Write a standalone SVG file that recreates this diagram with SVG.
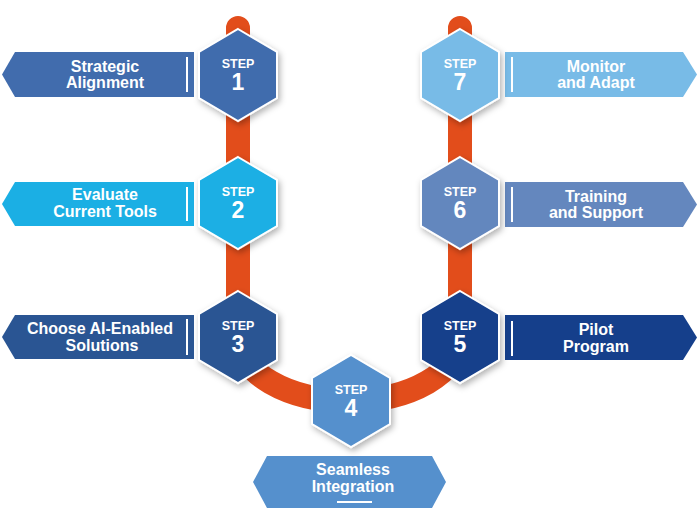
<svg xmlns="http://www.w3.org/2000/svg" width="699" height="522" viewBox="0 0 699 522">
<defs>
<style>
.t{font-family:"Liberation Sans",Arial,sans-serif;font-weight:bold;fill:#fff;text-anchor:middle}
.lbl{font-size:16px}
.st{font-size:12.5px}
.num{font-size:23px}
.hx{stroke:#fff;stroke-width:2;filter:url(#sh)}
.sep{stroke:#fff;stroke-width:2}
</style>
<filter id="sh" x="-30%" y="-30%" width="160%" height="160%">
<feDropShadow dx="2" dy="3" stdDeviation="3" flood-color="#000" flood-opacity="0.3"/>
</filter>
<polygon id="hex" points="0,-46 39,-23 39,23 0,46 -39,23 -39,-23"/>
</defs>
<rect width="699" height="522" fill="#fff"/>
<g id="connectors">
<path d="M238 28 V337 A111 64 0 0 0 349 401 A111 64 0 0 0 460 337 V28" fill="none" stroke="#E24D1B" stroke-width="24" stroke-linecap="round"/>
</g>
<g id="label1">
<polygon points="15,52 194,52 194,97 15,97 2,74.5" fill="#416CAD"/>
<line class="sep" x1="187" y1="57" x2="187" y2="92"/>
<text class="t lbl" x="105" y="72">Strategic</text>
<text class="t lbl" x="105" y="88">Alignment</text>
</g>
<g id="label2">
<polygon points="15,182 194,182 194,226 15,226 2,204" fill="#1BAFE4"/>
<line class="sep" x1="187" y1="187" x2="187" y2="221"/>
<text class="t lbl" x="105" y="200">Evaluate</text>
<text class="t lbl" x="105" y="217">Current Tools</text>
</g>
<g id="label3">
<polygon points="15,315 194,315 194,359 15,359 2,337" fill="#2A5593"/>
<line class="sep" x1="187" y1="319" x2="187" y2="355"/>
<text class="t lbl" x="100" y="334">Choose AI-Enabled</text>
<text class="t lbl" x="102" y="351">Solutions</text>
</g>
<g id="label4">
<polygon points="267,456 432,456 446,482 432,508 267,508 253,482" fill="#5590CD"/>
<line class="sep" x1="337" y1="502" x2="372" y2="502"/>
<text class="t lbl" x="353" y="475">Seamless</text>
<text class="t lbl" x="353" y="492">Integration</text>
</g>
<g id="label5">
<polygon points="505,315 683,315 697,337.5 683,360 505,360" fill="#153F8B"/>
<line class="sep" x1="512" y1="321" x2="512" y2="356"/>
<text class="t lbl" x="596" y="335">Pilot</text>
<text class="t lbl" x="596" y="352">Program</text>
</g>
<g id="label6">
<polygon points="505,182 683,182 697,204.5 683,227 505,227" fill="#6487BE"/>
<line class="sep" x1="512" y1="187" x2="512" y2="222"/>
<text class="t lbl" x="596" y="202">Training</text>
<text class="t lbl" x="596" y="218">and Support</text>
</g>
<g id="label7">
<polygon points="505,52 683,52 697,74.5 683,97 505,97" fill="#78BBE7"/>
<line class="sep" x1="512" y1="57" x2="512" y2="92"/>
<text class="t lbl" x="596" y="72">Monitor</text>
<text class="t lbl" x="596" y="88">and Adapt</text>
</g>
<g id="step1">
<use href="#hex" x="238" y="75" class="hx" fill="#416CAD"/>
<text class="t st" x="238" y="68">STEP</text>
<text class="t num" x="238" y="90">1</text>
</g>
<g id="step2">
<use href="#hex" x="238" y="203" class="hx" fill="#1BAFE4"/>
<text class="t st" x="238" y="196">STEP</text>
<text class="t num" x="238" y="218">2</text>
</g>
<g id="step3">
<use href="#hex" x="238" y="337" class="hx" fill="#2A5593"/>
<text class="t st" x="238" y="330">STEP</text>
<text class="t num" x="238" y="352">3</text>
</g>
<g id="step4">
<use href="#hex" x="351" y="401" class="hx" fill="#5590CD"/>
<text class="t st" x="351" y="394">STEP</text>
<text class="t num" x="351" y="416">4</text>
</g>
<g id="step5">
<use href="#hex" x="460" y="337" class="hx" fill="#153F8B"/>
<text class="t st" x="460" y="330">STEP</text>
<text class="t num" x="460" y="352">5</text>
</g>
<g id="step6">
<use href="#hex" x="460" y="203" class="hx" fill="#6487BE"/>
<text class="t st" x="460" y="196">STEP</text>
<text class="t num" x="460" y="218">6</text>
</g>
<g id="step7">
<use href="#hex" x="460" y="75" class="hx" fill="#78BBE7"/>
<text class="t st" x="460" y="68">STEP</text>
<text class="t num" x="460" y="90">7</text>
</g>
</svg>
